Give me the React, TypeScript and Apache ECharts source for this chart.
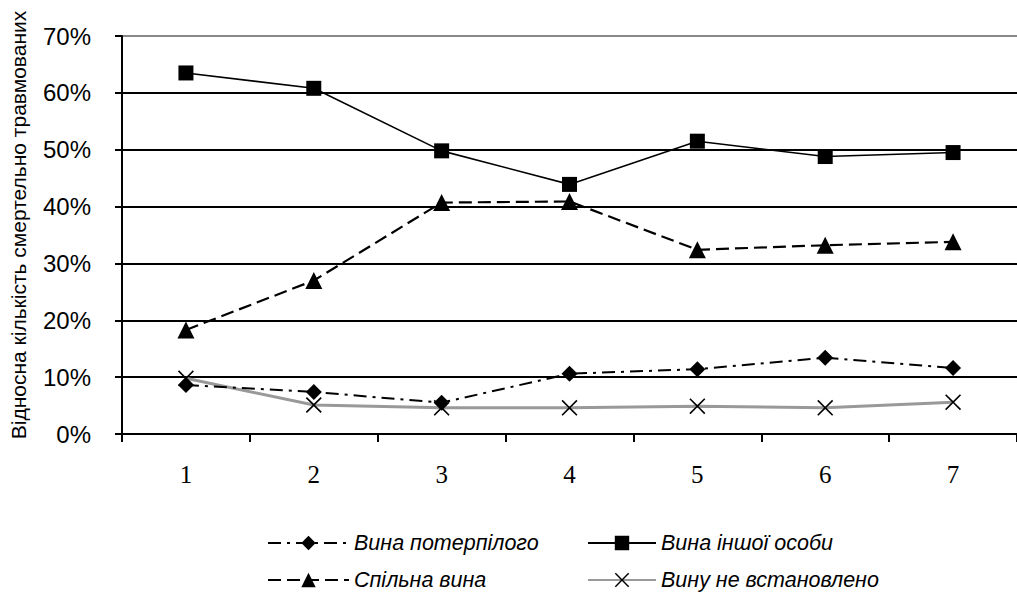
import React, { useEffect, useRef } from "react";
import * as echarts from "echarts";

const categories = ["1", "2", "3", "4", "5", "6", "7"];
const vynaPoterpiloho = [0.086, 0.074, 0.055, 0.106, 0.114, 0.134, 0.116];
const vynaInshoiOsoby = [0.635, 0.608, 0.498, 0.439, 0.515, 0.488, 0.495];
const spilnaVyna = [0.183, 0.27, 0.407, 0.409, 0.324, 0.332, 0.338];
const vynuNeVstanovleno = [0.098, 0.051, 0.046, 0.046, 0.049, 0.046, 0.056];
const seriesNames = ["Вина потерпілого", "Вина іншої особи", "Спільна вина", "Вину не встановлено"];
const yAxisTitle = "Відносна кількість смертельно травмованих";

const crossPath = "path://M0,1 L1,0 L7,6 L13,0 L14,1 L8,7 L14,13 L13,14 L7,8 L1,14 L0,13 L6,7 Z";
const SERIF = "Liberation Serif";
const SANS = "Liberation Sans";

export default function App() {
  const ref = useRef<HTMLDivElement>(null);
  useEffect(() => {
    document.body.style.margin = "0";
    const chart = echarts.init(ref.current!, null, { renderer: "svg" });
    const legendText = {
      fontFamily: SANS,
      fontStyle: "italic",
      fontSize: 21.5,
      color: "#000",
    };
    const mkLegend = (name: string, left: number, top: number, w: number) => ({
      orient: "horizontal",
      left,
      top,
      itemWidth: w,
      itemHeight: 18,
      data: [name],
      textStyle: legendText,
      selectedMode: false,
      padding: 0,
    });
    chart.setOption({
      animation: false,
      backgroundColor: "#fff",
      grid: { left: 122, right: -2, top: 36, bottom: 167 },
      xAxis: {
        type: "category",
        data: categories,
        boundaryGap: true,
        axisLine: { lineStyle: { color: "#000", width: 2 } },
        axisTick: { show: true, length: 8, lineStyle: { color: "#000", width: 2 } },
        axisLabel: { fontFamily: SERIF, fontSize: 25, color: "#000", margin: 28 },
        splitLine: { show: false },
      },
      yAxis: {
        type: "value",
        min: 0,
        max: 0.7,
        interval: 0.1,
        axisLine: { show: true, lineStyle: { color: "#000", width: 2 } },
        axisTick: { show: true, length: 7, lineStyle: { color: "#000", width: 2 } },
        axisLabel: {
          fontFamily: SANS,
          fontSize: 24,
          color: "#000",
          margin: 31,
          formatter: (v: number) => Math.round(v * 100) + "%",
        },
        splitLine: {
          show: true,
          lineStyle: {
            color: ["#000", "#000", "#000", "#000", "#000", "#000", "#000", "#888"],
            width: 1.8,
          },
        },
      },
      legend: [
        mkLegend(seriesNames[0], 267, 532, 81),
        mkLegend(seriesNames[2], 267, 569, 81),
        mkLegend(seriesNames[1], 587, 532, 68),
        mkLegend(seriesNames[3], 587, 569, 68),
      ],
      graphic: [
        {
          type: "text",
          x: 18,
          y: 225,
          rotation: Math.PI / 2,
          style: {
            text: yAxisTitle,
            fontFamily: SANS,
            fontSize: 21,
            fill: "#000",
            align: "center",
            verticalAlign: "middle",
          },
        },
      ],
      series: [
        {
          name: seriesNames[0],
          type: "line",
          data: vynaPoterpiloho,
          symbol: "diamond",
          symbolSize: 16,
          itemStyle: { color: "#000" },
          lineStyle: { color: "#000", width: 2, type: [13, 6, 3, 6] },
          z: 4,
        },
        {
          name: seriesNames[1],
          type: "line",
          data: vynaInshoiOsoby,
          symbol: "rect",
          symbolSize: 15,
          itemStyle: { color: "#000" },
          lineStyle: { color: "#000", width: 1.6, type: "solid" },
          z: 4,
        },
        {
          name: seriesNames[2],
          type: "line",
          data: spilnaVyna,
          symbol: "triangle",
          symbolSize: 17,
          itemStyle: { color: "#000" },
          lineStyle: { color: "#000", width: 2.2, type: [13, 6] },
          z: 4,
        },
        {
          name: seriesNames[3],
          type: "line",
          data: vynuNeVstanovleno,
          symbol: crossPath,
          symbolSize: 16,
          itemStyle: { color: "#000" },
          lineStyle: { color: "#999", width: 3, type: "solid" },
          z: 3,
        },
      ],
    });
    return () => chart.dispose();
  }, []);
  return <div ref={ref} style={{ width: 1017, height: 601 }} />;
}
